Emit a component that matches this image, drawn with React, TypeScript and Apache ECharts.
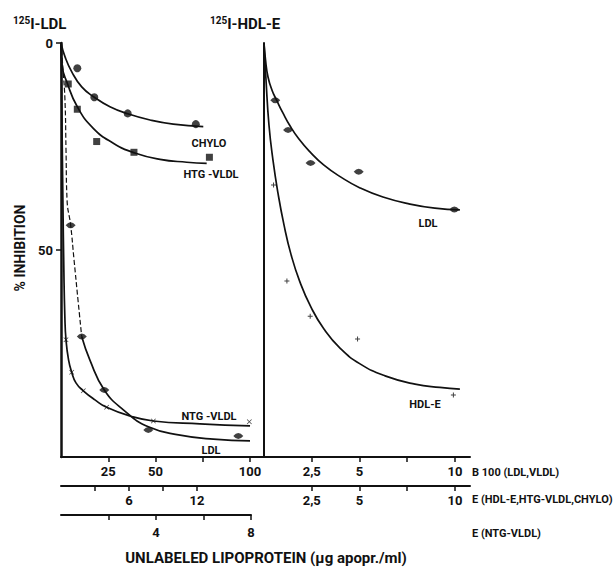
import React, { useEffect, useRef } from "react";
import * as echarts from "echarts";

// ---------- data (x in axis units, y = % inhibition) ----------
// Left panel, B100 axis (LDL, VLDL)
const ldlLeftX = [5.1, 11.0, 22.9, 46.2, 93.8];
const ldlLeftY = [44.0, 70.9, 83.8, 93.5, 94.9];
const ldlLeftFitDashed = [[0, 0], [1.06, 6.5], [2.1, 13.8], [2.65, 25.8], [3.2, 37.9], [5.1, 44.0], [6.9, 52.4], [9.0, 62.1], [10.95, 70.9]];
const ldlLeftFitSolid = [[10.95, 70.9], [15.3, 76.6], [22.9, 83.8], [33, 88.6], [46.2, 92.7], [63, 94.7], [80.6, 95.7], [100, 96.1]];

// Left panel, E axis (CHYLO, HTG-VLDL)
const chyloX = [1.44, 2.94, 5.89, 11.9];
const chyloY = [6.1, 13.1, 17.0, 19.6];
const chyloFit = [[0, 0], [0.35, 3.3], [0.94, 6.9], [1.83, 10.6], [2.94, 13.1], [4.32, 15.4], [5.89, 17.1], [7.86, 18.6], [9.91, 19.6], [12.56, 20.2]];
const htgX = [0.64, 1.44, 3.15, 6.44, 13.1];
const htgY = [9.9, 16.0, 23.8, 26.4, 27.6];
const htgFit = [[0, 0.5], [0.11, 5.7], [0.5, 9.3], [1.44, 15.4], [2.85, 20.6], [4.62, 24.2], [6.44, 26.5], [8.74, 28.1], [11.1, 28.8], [12.86, 29.1]];

// Left panel, E axis (NTG-VLDL)
const ntgX = [0.21, 0.45, 0.94, 1.92, 3.89, 7.93];
const ntgY = [71.7, 79.5, 84.0, 88.0, 91.3, 91.5];
const ntgFit = [[0, 0], [0.04, 18.6], [0.08, 37.9], [0.12, 54.8], [0.16, 65.7], [0.21, 71.7], [0.32, 76.6], [0.45, 79.5], [0.63, 82.1], [0.94, 84.0], [1.43, 86.2], [1.92, 88.0], [2.9, 90.1], [3.89, 91.3], [5.85, 92.0], [7.96, 92.5]];

// Right panel (125I-HDL-E)
const ldlRightX = [0.59, 1.26, 2.44, 4.96, 9.97];
const ldlRightY = [13.8, 21.0, 29.0, 31.1, 40.2];
const ldlRightFit = [[0, 0], [0.08, 4.1], [0.21, 8.2], [0.42, 11.4], [0.68, 14.0], [0.99, 16.9], [1.36, 20.0], [1.83, 23.2], [2.41, 26.3], [3.14, 29.5], [4.03, 32.4], [5.03, 35.0], [6.23, 37.2], [7.64, 38.9], [8.95, 39.9], [10.26, 40.3]];
const hdlX = [0.5, 1.2, 2.42, 4.9, 9.92];
const hdlY = [34.3, 57.5, 66.0, 71.5, 85.0];
const hdlFit = [[0, 0], [0.105, 8.9], [0.26, 19.8], [0.47, 28.3], [0.73, 36.2], [1.05, 44.0], [1.41, 51.0], [1.88, 57.7], [2.46, 63.8], [3.14, 69.1], [3.98, 73.7], [5.03, 77.5], [6.34, 80.4], [7.91, 82.4], [9.21, 83.2], [10.26, 83.6]];

// Tick values / labels
const yTicks = [0, 50];
const b100LeftTicks = [25, 50, 75, 100];
const b100LeftLabels = [25, 50, 100];
const eLeftTicks = [3, 6, 9, 12];
const eLeftLabels = [6, 12];
const ntgTicks = [2, 4, 6, 8];
const ntgLabels = [4, 8];
const rightTicks = [2.5, 5, 7.5, 10];
const rightLabels = [2.5, 5, 10];

const INK = "#111";
const FONT = "Roboto, 'Liberation Sans', 'DejaVu Sans', sans-serif";

const LENS = "path://M0 5 Q5 0 10 5 Q5 10 0 5 Z";
const XMARK = "path://M0 1 L1 0 L5 4 L9 0 L10 1 L6 5 L10 9 L9 10 L5 6 L1 10 L0 9 L4 5 Z";
const PLUS = "path://M4 0 H6 V4 H10 V6 H6 V10 H4 V6 H0 V4 H4 Z";

function pts(xs: number[], ys: number[]) {
  return xs.map((x, i) => [x, ys[i]]);
}

function scatter(xs: number[], ys: number[], xi: number, yi: number, symbol: string, size: any) {
  return {
    type: "scatter",
    xAxisIndex: xi,
    yAxisIndex: yi,
    data: pts(xs, ys),
    symbol,
    symbolSize: size,
    itemStyle: { color: INK },
    z: 5,
  };
}

function curve(data: number[][], xi: number, yi: number, dashed = false) {
  return {
    type: "line",
    xAxisIndex: xi,
    yAxisIndex: yi,
    data,
    symbol: "none",
    showSymbol: false,
    smooth: 0.5,
    lineStyle: { color: INK, width: dashed ? 1.2 : 1.7, type: dashed ? [5, 2.5] : "solid" },
    z: 4,
  };
}

function xAxis(gridIndex: number, max: number, offset: number, ticks: number[], labels: number[], margin: number, comma = false) {
  return {
    type: "value",
    gridIndex,
    position: "bottom",
    offset,
    min: 0,
    max,
    axisLine: { show: true, onZero: false, lineStyle: { color: INK, width: 2 } },
    axisTick: { show: true, customValues: ticks, length: 5, lineStyle: { color: INK, width: 1.5 } },
    axisLabel: {
      show: true,
      customValues: labels,
      margin,
      color: INK,
      fontFamily: FONT,
      fontWeight: "bold",
      fontSize: 13,
      formatter: (v: number) => (comma ? String(v).replace(".", ",") : String(v)),
    },
    splitLine: { show: false },
  };
}

function label(text: string, x: number, y: number, size = 11, align = "center") {
  return {
    type: "text",
    x,
    y,
    style: { text, fill: INK, font: `bold ${size}px ${FONT}`, align, verticalAlign: "middle" },
  };
}

export default function App() {
  const ref = useRef<HTMLDivElement>(null);

  useEffect(() => {
    document.body.style.margin = "0";
    const chart = echarts.init(ref.current!, null, { renderer: "svg" });
    const option: any = {
      animation: false,
      backgroundColor: "#fff",
      grid: [
        { left: 61, top: 43, width: 203, height: 414 },
        { left: 264, top: 43, width: 206, height: 414 },
        { left: 61, top: 43, width: 190, height: 414 },
      ],
      xAxis: [
        xAxis(0, 107.4, 0, b100LeftTicks, b100LeftLabels, 8),
        xAxis(0, 17.92, 29, eLeftTicks, eLeftLabels, 8),
        xAxis(2, 8, 58, ntgTicks, ntgLabels, 11),
        xAxis(1, 10.79, 0, rightTicks, rightLabels, 8, true),
        xAxis(1, 10.79, 29, rightTicks, rightLabels, 8, true),
      ],
      yAxis: [
        {
          type: "value",
          gridIndex: 0,
          inverse: true,
          min: 0,
          max: 100,
          axisLine: { show: true, lineStyle: { color: INK, width: 2.5 } },
          axisTick: { show: true, customValues: yTicks, length: 5, lineStyle: { color: INK, width: 1.5 } },
          axisLabel: { show: true, customValues: yTicks, margin: 8, color: INK, fontFamily: FONT, fontWeight: "bold", fontSize: 13 },
          splitLine: { show: false },
        },
        {
          type: "value",
          gridIndex: 1,
          inverse: true,
          min: 0,
          max: 100,
          axisLine: { show: true, lineStyle: { color: INK, width: 2 } },
          axisTick: { show: false },
          axisLabel: { show: false },
          splitLine: { show: false },
        },
        {
          type: "value",
          gridIndex: 2,
          inverse: true,
          min: 0,
          max: 100,
          axisLine: { show: false },
          axisTick: { show: false },
          axisLabel: { show: false },
          splitLine: { show: false },
        },
      ],
      series: [
        curve(ldlLeftFitDashed, 0, 0, true),
        curve(ldlLeftFitSolid, 0, 0),
        scatter(ldlLeftX, ldlLeftY, 0, 0, LENS, [10, 6]),
        curve(chyloFit, 1, 0),
        scatter(chyloX, chyloY, 1, 0, "circle", 8),
        curve(htgFit, 1, 0),
        scatter(htgX, htgY, 1, 0, "rect", 7),
        curve(ntgFit, 2, 2),
        scatter(ntgX, ntgY, 2, 2, XMARK, 5),
        curve(ldlRightFit, 3, 1),
        scatter(ldlRightX, ldlRightY, 3, 1, LENS, [10, 6]),
        curve(hdlFit, 3, 1),
        scatter(hdlX, hdlY, 3, 1, PLUS, 5),
      ],
      graphic: [
        {
          type: "text",
          x: 13,
          y: 15,
          style: {
            text: "{s|125}{m|I-LDL}",
            fill: INK,
            rich: {
              s: { fontSize: 10, fontWeight: "bold", fontFamily: FONT, verticalAlign: "top", lineHeight: 10, fill: INK },
              m: { fontSize: 15, fontWeight: "bold", fontFamily: FONT, lineHeight: 18, fill: INK },
            },
          },
        },
        {
          type: "text",
          x: 210,
          y: 15,
          style: {
            text: "{s|125}{m|I-HDL-E}",
            fill: INK,
            rich: {
              s: { fontSize: 10, fontWeight: "bold", fontFamily: FONT, verticalAlign: "top", lineHeight: 10, fill: INK },
              m: { fontSize: 15, fontWeight: "bold", fontFamily: FONT, lineHeight: 18, fill: INK },
            },
          },
        },
        {
          type: "text",
          x: 20,
          y: 248,
          rotation: Math.PI / 2,
          style: { text: "% INHIBITION", fill: INK, font: `bold 14px ${FONT}`, align: "center", verticalAlign: "middle" },
        },
        label("CHYLO", 209, 143),
        label("HTG -VLDL", 211, 174),
        label("NTG -VLDL", 209, 416),
        label("LDL", 211, 450),
        label("LDL", 428, 223),
        label("HDL-E", 425, 404),
        label("B 100 (LDL,VLDL)", 472, 472, 11, "left"),
        label("E (HDL-E,HTG-VLDL,CHYLO)", 472, 499, 11, "left"),
        label("E (NTG-VLDL)", 472, 533, 11, "left"),
        label("UNLABELED LIPOPROTEIN (\u00b5g apopr./ml)", 266, 558, 15),
      ],
    };
    chart.setOption(option);
    return () => chart.dispose();
  }, []);

  return <div ref={ref} style={{ width: 616, height: 569 }} />;
}
